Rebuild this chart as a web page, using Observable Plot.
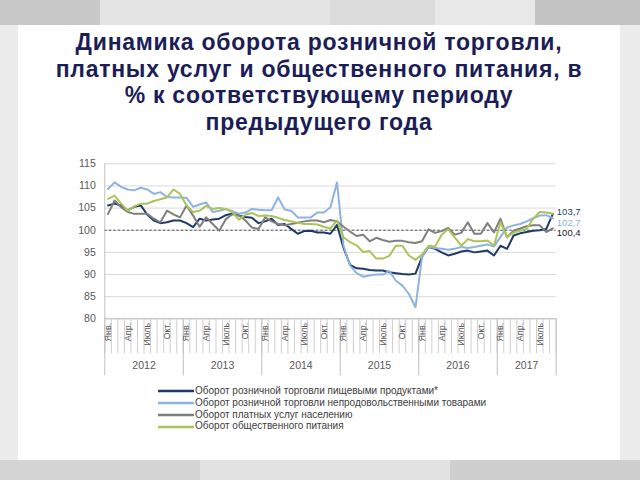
<!DOCTYPE html>
<html><head><meta charset="utf-8">
<script src="https://cdn.jsdelivr.net/npm/d3@7"></script>
<script src="https://cdn.jsdelivr.net/npm/@observablehq/plot@0.6"></script>
<style>
body{margin:0;width:640px;height:480px;background:#ececec;position:relative;overflow:hidden;font-family:"Liberation Sans",Arial,sans-serif}
.blk{position:absolute}
#panel{position:absolute;left:18px;top:25px;width:602px;height:435px;background:#fff}
#title{position:absolute;left:18px;width:602px;top:29px;text-align:center;font-family:"Liberation Sans",Arial,sans-serif;font-weight:700;font-size:23px;line-height:26.5px;letter-spacing:0.75px;color:#1b1d58}
#title div{height:26.5px;line-height:26.5px}
#chart{position:absolute;left:0;top:0}
#legend{position:absolute;left:158px;top:385px;font-size:10px;color:#404040;font-family:"Liberation Sans",Arial,sans-serif}
#legend div{height:11.8px;line-height:11.8px;white-space:nowrap}
#legend svg{vertical-align:middle;margin-right:1px}
</style></head><body>
<div class="blk" style="left:0;top:0;width:100px;height:25px;background:#c8c8c8"></div>
<div class="blk" style="left:100px;top:0;width:230px;height:25px;background:#e4e4e4"></div>
<div class="blk" style="left:330px;top:0;width:105px;height:25px;background:#dcdcdc"></div>
<div class="blk" style="left:435px;top:0;width:100px;height:25px;background:#e8e8e8"></div>
<div class="blk" style="left:535px;top:0;width:105px;height:25px;background:#c4c4c4"></div>
<div class="blk" style="left:0;top:460px;width:200px;height:20px;background:#d4d4d4"></div>
<div class="blk" style="left:200px;top:460px;width:250px;height:20px;background:#e2e2e2"></div>
<div class="blk" style="left:450px;top:460px;width:190px;height:20px;background:#cfcfcf"></div>
<div id="panel"></div>
<div id="title"><div>Динамика оборота розничной торговли,</div><div>платных услуг и общественного питания, в</div><div>% к соответствующему периоду</div><div>предыдущего года</div></div>
<div id="chart"></div>
<div id="legend"></div>
<script>
const years = ["2012","2013","2014","2015","2016","2017"];
const monthsPerYear = [12,12,12,12,12,9];
const monthNames = ["Янв.","","","Апр.","","","Июль","","","Окт.","",""];
const seriesNames = [
  "Оборот розничной торговли пищевыми продуктами*",
  "Оборот розничной торговли непродовольственными товарами",
  "Оборот платных услуг населению",
  "Оборот общественного питания"
];
const seriesColors = ["#1f3a68","#8fb3e0","#7f7f7f","#aac457"];
const yTicks = [80,85,90,95,100,105,110,115];

const food = [
  105.6,106.0,105.6,104.5,105.3,105.6,103.5,102.2,101.6,101.8,102.2,102.2,
  101.6,100.7,102.6,102.2,102.4,102.6,103.4,103.8,103.3,103.0,102.8,101.6,
  102.0,102.6,101.2,101.4,100.3,99.2,99.8,99.9,99.5,99.5,99.2,101.2,
  96.0,92.2,91.4,91.3,91.0,90.9,90.9,90.5,90.3,90.1,90.0,90.2,
  94.0,96.2,95.8,95.0,94.3,94.7,95.2,95.4,95.0,95.2,95.4,94.3,
  96.5,95.8,98.8,99.3,99.6,99.9,100.0,100.3,103.7
];
const nonFood = [
  109.3,110.8,109.8,109.2,109.0,109.6,109.2,108.2,108.6,107.5,107.4,107.4,
  107.3,105.3,105.8,106.3,104.1,104.4,104.8,104.3,103.7,104.0,104.8,104.6,
  104.5,104.5,107.4,104.7,104.4,102.9,102.9,102.9,104.0,104.0,105.2,110.8,
  96.5,92.0,90.3,89.5,89.8,90.0,90.0,90.8,88.6,87.5,85.6,82.6,
  94.0,96.2,96.0,95.8,95.6,95.8,96.2,96.0,96.2,96.5,96.8,96.3,
  98.5,100.6,101.1,101.4,102.0,102.7,103.3,103.4,102.7
];
const services = [
  103.7,106.7,105.2,104.1,103.7,103.7,103.7,102.6,101.8,104.4,103.6,102.9,
  105.6,103.3,100.8,102.9,101.4,99.9,102.5,103.6,103.4,102.2,100.6,100.3,
  102.9,102.0,101.4,101.1,101.4,101.7,102.0,102.2,102.2,101.8,102.3,102.0,
  100.8,99.7,98.7,99.0,97.5,98.3,97.8,97.4,97.6,97.6,97.3,97.1,
  97.5,100.2,99.4,99.8,100.5,99.0,99.4,101.8,99.2,99.2,101.6,99.5,
  102.6,98.4,99.9,100.4,100.9,101.1,101.1,99.6,100.4
];
const catering = [
  107.1,107.8,106.0,104.4,105.4,106.0,106.0,106.6,107.0,107.4,109.2,108.2,
  105.6,104.1,104.4,105.5,104.8,105.0,104.8,104.1,102.4,103.5,103.9,103.2,
  103.3,103.2,102.8,102.3,102.0,101.7,101.4,101.4,101.3,100.8,100.4,102.2,
  98.4,97.3,96.6,95.1,95.3,93.6,93.6,94.2,96.5,96.5,94.3,93.3,
  94.5,96.5,96.3,99.0,100.2,98.4,96.5,98.0,97.5,97.5,97.7,96.5,
  101.8,98.4,99.5,99.9,100.3,102.6,104.1,104.0,103.7
];
const seriesValues = [food, nonFood, services, catering];

const nMonths = d3.sum(monthsPerYear);
const rows = [];
seriesValues.forEach((vals, s) => vals.forEach((v, i) => rows.push({i: i + 0.5, v, s: seriesNames[s]})));

const monthBounds = d3.range(0, nMonths + 1);
const yearBounds = [0, ...d3.cumsum(monthsPerYear)];
const yearCenters = monthsPerYear.map((m, k) => yearBounds[k] + m / 2);
const monthLabelPos = [];
const monthLabelText = new Map();
{
  let idx = 0;
  monthsPerYear.forEach(m => { for (let j = 0; j < m; j++) { if (monthNames[j]) { monthLabelPos.push(idx + 0.5); monthLabelText.set(idx + 0.5, monthNames[j]); } idx++; } });
}
const yearText = new Map(yearCenters.map((c, k) => [c, years[k]]));

const fmt = v => v.toFixed(1).replace(".", ",");
const endLabel = (vals, fill, dy) => Plot.text([{i: vals.length - 0.5, v: vals[vals.length - 1]}],
  {x: "i", y: "v", text: d => fmt(d.v), dx: 4, dy, textAnchor: "start", fontSize: 9.5, fill});

const plot = Plot.plot({
  width: 640, height: 440,
  marginLeft: 104.3, marginRight: 84.4, marginTop: 163.3, marginBottom: 121.7,
  style: {fontFamily: "Liberation Sans, Arial, sans-serif", fontSize: "10px", color: "#595959", background: "transparent"},
  x: {domain: [0, nMonths], axis: null},
  y: {domain: [80, 115], axis: null},
  color: {domain: seriesNames, range: seriesColors},
  marks: [
    Plot.gridY(yTicks, {stroke: "#d9d9d9", strokeOpacity: 1}),
    Plot.axisY({ticks: yTicks, tickSize: 0, tickPadding: 9, fontSize: 10.5, fill: "#595959", label: null}),
    Plot.ruleY([100], {stroke: "#555", strokeDasharray: "2.5,2", strokeWidth: 1}),
    Plot.ruleX([0], {stroke: "#bfbfbf"}),
    Plot.ruleY([80], {stroke: "#bfbfbf"}),
    Plot.axisX({ticks: monthBounds, tickSize: 35, tickFormat: () => "", stroke: "#cfcfcf", label: null}),
    Plot.axisX({ticks: yearBounds, tickSize: 57, tickFormat: () => "", stroke: "#bfbfbf", label: null}),
    Plot.axisX({ticks: monthLabelPos, tickSize: 0, tickPadding: 4, tickRotate: -90, fontSize: 9, fill: "#595959", tickFormat: d => monthLabelText.get(d), label: null}),
    Plot.axisX({ticks: yearCenters, tickSize: 0, tickPadding: 43, fontSize: 10.5, fill: "#595959", tickFormat: d => yearText.get(d), label: null}),
    ...seriesNames.map(name => Plot.line(rows.filter(r => r.s === name), {x: "i", y: "v", stroke: "s", strokeWidth: 2, strokeLinejoin: "round"})),
    endLabel(food, "#1f3a68", -2),
    endLabel(nonFood, "#8fb3e0", 4.5),
    endLabel(services, "#222", 4.5)
  ]
});
document.getElementById("chart").appendChild(plot);

const legend = document.getElementById("legend");
seriesNames.forEach((name, s) => {
  const row = document.createElement("div");
  row.innerHTML = `<svg width="36" height="6"><line x1="0" x2="36" y1="3" y2="3" stroke="${seriesColors[s]}" stroke-width="2.5"/></svg>${name}`;
  legend.appendChild(row);
});
</script>
</body></html>
